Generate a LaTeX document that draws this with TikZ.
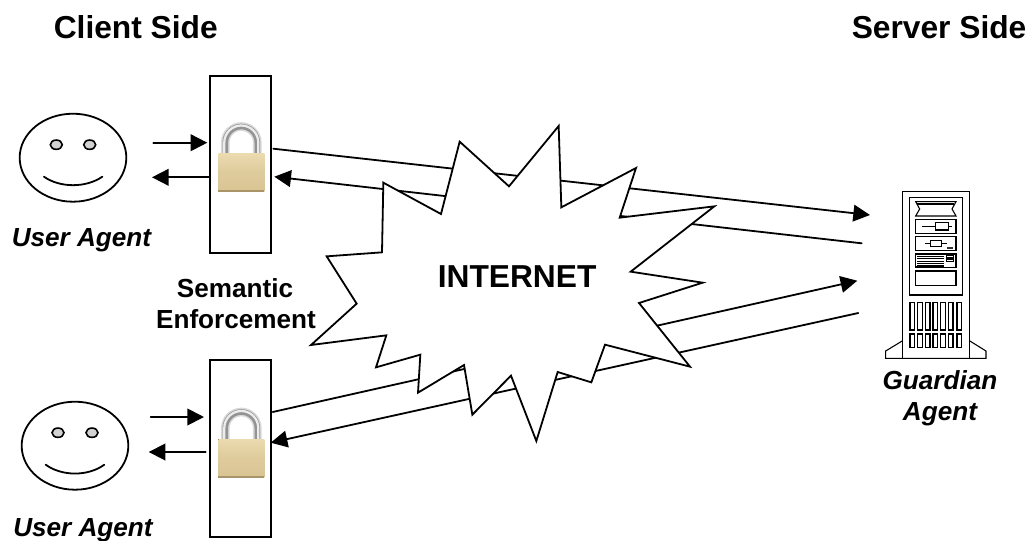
\documentclass[tikz,border=0pt]{standalone}
\usepackage{fontspec}
\setmainfont{Liberation Sans}
\usetikzlibrary{arrows.meta,shapes.geometric}
\definecolor{lockA}{HTML}{EBDBB0}
\definecolor{lockB}{HTML}{D9C493}
\definecolor{lockC}{HTML}{A89468}
\tikzset{
  main/.style={line width=1.35pt,black,line cap=round,line join=miter},
  arrowline/.style={main,-{Triangle[length=12.5pt,width=12.5pt]}},
  gatebox/.style={draw,line width=1.4pt,rectangle,minimum width=45.5pt,minimum height=132.75pt,inner sep=0pt,fill=white},
  face/.style={draw,line width=1.35pt,ellipse,minimum width=80pt,minimum height=66pt,inner sep=0pt},
  eye/.style={draw,line width=1.2pt,ellipse,fill=gray!35,minimum width=9pt,minimum height=7pt,inner sep=0pt},
  srv/.style={line width=.8pt,black,line join=miter},
  bigtext/.style={inner sep=0pt,anchor=base west,font=\fontsize{23.8pt}{28pt}\selectfont\bfseries},
  smalltext/.style={inner sep=0pt,anchor=base,font=\fontsize{19.6pt}{24pt}\selectfont\bfseries},
  itext/.style={inner sep=0pt,anchor=base,font=\fontsize{19.6pt}{24pt}\selectfont\bfseries\itshape},
}
\newcommand{\lockicon}[2]{%
  \begin{scope}[shift={(#1,#2)}]
    \draw[line width=6.5pt,gray!30] (7,3) -- (7,-11) arc[start angle=180,end angle=0,radius=12pt] -- (39,3);
    \draw[line width=4.2pt,gray!85] (7,3) -- (7,-11) arc[start angle=180,end angle=0,radius=12pt] -- (39,3);
    \draw[line width=1.7pt,gray!15] (6,3) -- (6,-11) arc[start angle=180,end angle=0,radius=12.75pt] -- (40,3);
    \fill[top color=lockA,bottom color=lockB,middle color=lockB!70!lockA] (0,0) rectangle (46,38);
    \fill[lockC] (0,36.5) rectangle (46,38.6);
  \end{scope}}
\begin{document}
\begin{tikzpicture}[x=.75pt,y=-.75pt]
\useasboundingbox (0,0) rectangle (1028,540);
\fill[white] (0,0) rectangle (1028,540);

% headings
\node[bigtext] (client) at (53.5,38) {Client Side};
\node[bigtext] (server) at (851.5,38) {Server Side};

% faces
\node[face] (face1) at (73,157.7) {};
\node[eye] (eye1a) at (56.3,144.7) {};
\node[eye] (eye1b) at (89.7,144.7) {};
\draw[main] (44,176.7) .. controls (60,188) and (86,188) .. (102.3,176.7);
\node[face] (face2) at (75,445.7) {};
\node[eye] (eye2a) at (58,432.7) {};
\node[eye] (eye2b) at (92,432.7) {};
\draw[main] (45.7,464.7) .. controls (62,476.5) and (88,476.5) .. (104.3,464.7);
\node[itext] (user1) at (81.5,246) {User Agent};
\node[itext] (user2) at (83,536.5) {User Agent};

% enforcement boxes and locks
\node[gatebox] (box1) at (240.3,164.2) {};
\node[gatebox] (box2) at (240.3,448.8) {};
\lockicon{218.3}{153.5}
\lockicon{218.3}{439}
\node[smalltext] (sem1) at (235,297.7) {Semantic};
\node[smalltext] (sem2) at (236,328.3) {Enforcement};

% free ends
\coordinate (u1in) at (153.3,142.7);
\coordinate (u1to) at (207.3,142.7);
\coordinate (u1fr) at (209,177.3);
\coordinate (u1out) at (152,177.3);
\coordinate (u2in) at (150.7,417);
\coordinate (u2to) at (204,417);
\coordinate (u2fr) at (205.7,452);
\coordinate (u2out) at (148.7,452);
\coordinate (a1s) at (273.3,148.7);
\coordinate (a1e) at (870,215);
\coordinate (a2s) at (861.7,243.3);
\coordinate (a2e) at (274.3,176.7);
\coordinate (a3s) at (272.7,412);
\coordinate (a3e) at (857.3,280.7);
\coordinate (a4s) at (858.3,313);
\coordinate (a4e) at (270.7,442.7);

\draw[arrowline] (u1in) -- (u1to);
\draw[arrowline] (u1fr) -- (u1out);
\draw[arrowline] (u2in) -- (u2to);
\draw[arrowline] (u2fr) -- (u2out);
\draw[arrowline] (a1s) -- (a1e);
\draw[arrowline] (a2s) -- (a2e);
\draw[arrowline] (a3s) -- (a3e);
\draw[arrowline] (a4s) -- (a4e);

% internet burst
\begin{scope}[shift={(300,90)},x=.25pt,y=-.25pt]
\draw[main,fill=white,line join=miter] (479,155) -- (627,289) -- (776,108) -- (784,352) -- (1008,234) -- (959,383) -- (1243,349) -- (992,545) -- (1208,578) -- (1017,639) -- (1170,830) -- (915,764) -- (874,877) -- (773,846) -- (709,1053) -- (633,857) -- (517,974) -- (492,825) -- (354,908) -- (361,794) -- (228,832) -- (259,736) -- (33,765) -- (170,641) -- (80,499) -- (246,487) -- (250,278) -- (423,372) -- cycle;
\end{scope}
\node[bigtext] (internet) at (437.5,287.3) {INTERNET};

% server
\begin{scope}[shift={(860,190)},x=.25pt,y=-.25pt]
\draw[srv] (128,5) rectangle (328,505);
\draw[srv] (148,23) rectangle (308,315);
\draw[srv] (128,452) -- (77,483) -- (77,505) -- (378,505) -- (378,483) -- (328,452);
% display
\draw[srv] (167,35) -- (288,35) -- (276,57) -- (288,78) -- (167,78) -- (179,57) -- cycle;
\draw[srv] (172,42) -- (283,42);
% drive 1
\draw[srv] (167,88) rectangle (288,130);
\draw[srv] (187,110) -- (226,110) (265,110) -- (276,110);
\draw[srv] (226,97) rectangle (265,120);
% drive 2
\draw[srv] (167,140) rectangle (288,182);
\draw[srv] (195,160) -- (212,160) (245,160) -- (262,160);
\draw[srv] (212,152) rectangle (245,170);
\fill[black!80] (260,170) rectangle (278,176);
% slots
\draw[srv] (167,192) rectangle (288,233);
\foreach \yy in {199,206,213,220,226} \draw[srv,line width=.45pt] (172,\yy) -- (252,\yy);
\draw[srv,line width=1pt] (167,231) -- (252,231);
\draw[srv] (260,197) rectangle (280,204);
\draw[srv] (260,208) rectangle (280,215);
% blank
\draw[srv] (167,243) rectangle (288,287);
% vents
\foreach \xx in {150,173,196,219,242,265,291} {
  \draw[srv] (\xx,337) rectangle ++(14,83);
  \draw[srv] (\xx,432) rectangle ++(14,40);
}
\end{scope}
\node[itext] (guard1) at (940,389) {Guardian};
\node[itext] (guard2) at (940,420) {Agent};
\end{tikzpicture}
\end{document}
